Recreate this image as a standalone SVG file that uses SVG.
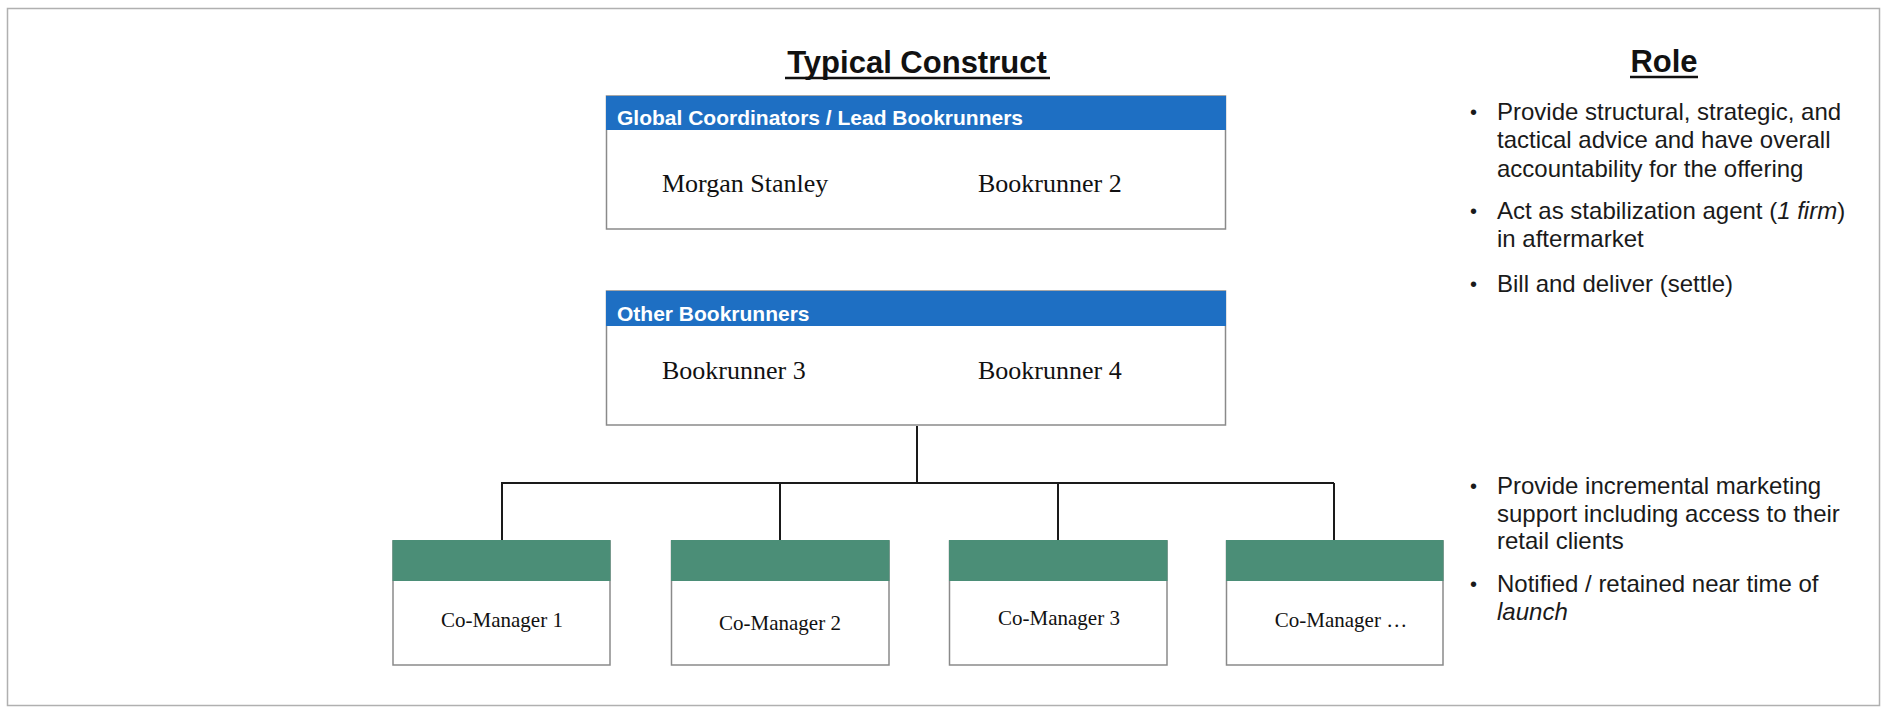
<svg xmlns="http://www.w3.org/2000/svg" width="1883" height="708" viewBox="0 0 1883 708">
<style>
.hdr{font-family:"Liberation Sans",Arial,sans-serif;font-weight:bold;font-size:31px;fill:#111}
.band-b{fill:#1e6fc3}
.band-g{fill:#4b8e77}
.box{fill:#fff;stroke:#8a8a8a;stroke-width:1.5}
.bt{font-family:"Liberation Sans",Arial,sans-serif;font-weight:bold;font-size:21px;fill:#fff}
.st{font-family:"Liberation Serif","Times New Roman",serif;font-size:26px;fill:#111}
.ct{font-family:"Liberation Serif","Times New Roman",serif;font-size:21px;fill:#111;text-anchor:middle}
.rt{font-family:"Liberation Sans",Arial,sans-serif;font-size:24px;fill:#1a1a1a}
.bul{font-family:"Liberation Sans",Arial,sans-serif;font-size:20px;fill:#1a1a1a}
.conn{stroke:#1a1a1a;stroke-width:2;fill:none}
</style>
<rect x="0" y="0" width="1883" height="708" fill="#fff"/>
<rect x="7.5" y="8.5" width="1872" height="697" fill="none" stroke="#b0b0b0" stroke-width="1.5"/>

<g id="title">
<text class="hdr" x="917" y="73" text-anchor="middle">Typical Construct</text>
<line x1="785" y1="78" x2="1050" y2="78" stroke="#111" stroke-width="2.5"/>
</g>
<g id="role-title">
<text class="hdr" x="1664" y="72" text-anchor="middle">Role</text>
<line x1="1630" y1="77" x2="1698" y2="77" stroke="#111" stroke-width="2.5"/>
</g>

<g id="connectors">
<line class="conn" x1="917" y1="426" x2="917" y2="483"/>
<line class="conn" x1="501" y1="483" x2="1334" y2="483"/>
<line class="conn" x1="502" y1="483" x2="502" y2="541"/>
<line class="conn" x1="780" y1="483" x2="780" y2="541"/>
<line class="conn" x1="1058" y1="483" x2="1058" y2="541"/>
<line class="conn" x1="1334" y1="483" x2="1334" y2="541"/>
</g>

<g id="global-coordinators">
<rect class="box" x="606.5" y="96" width="619" height="133"/>
<rect class="band-b" x="606" y="96" width="620" height="34"/>
<text class="bt" x="617" y="125">Global Coordinators / Lead Bookrunners</text>
<text class="st" x="662" y="192">Morgan Stanley</text>
<text class="st" x="978" y="192">Bookrunner 2</text>
</g>

<g id="other-bookrunners">
<rect class="box" x="606.5" y="291" width="619" height="134"/>
<rect class="band-b" x="606" y="291" width="620" height="35"/>
<text class="bt" x="617" y="321">Other Bookrunners</text>
<text class="st" x="662" y="379">Bookrunner 3</text>
<text class="st" x="978" y="379">Bookrunner 4</text>
</g>

<g id="co-manager-1">
<rect class="box" x="393" y="541" width="217" height="124"/>
<rect class="band-g" x="392.5" y="540" width="218" height="41"/>
<text class="ct" x="502" y="627">Co-Manager 1</text>
</g>
<g id="co-manager-2">
<rect class="box" x="671.5" y="541" width="217.5" height="124"/>
<rect class="band-g" x="671" y="540" width="218.5" height="41"/>
<text class="ct" x="780" y="630">Co-Manager 2</text>
</g>
<g id="co-manager-3">
<rect class="box" x="949.5" y="541" width="217.5" height="124"/>
<rect class="band-g" x="949" y="540" width="218.5" height="41"/>
<text class="ct" x="1059" y="625">Co-Manager 3</text>
</g>
<g id="co-manager-4">
<rect class="box" x="1226.5" y="541" width="216.5" height="124"/>
<rect class="band-g" x="1226" y="540" width="217.5" height="41"/>
<text class="ct" x="1341" y="627">Co-Manager …</text>
</g>

<g id="role-lead">
<text class="bul" x="1470" y="119">•</text>
<text class="rt" x="1497" y="120">Provide structural, strategic, and</text>
<text class="rt" x="1497" y="148">tactical advice and have overall</text>
<text class="rt" x="1497" y="177">accountability for the offering</text>
<text class="bul" x="1470" y="218">•</text>
<text class="rt" x="1497" y="219">Act as stabilization agent (<tspan font-style="italic">1 firm</tspan>)</text>
<text class="rt" x="1497" y="247">in aftermarket</text>
<text class="bul" x="1470" y="291">•</text>
<text class="rt" x="1497" y="292">Bill and deliver (settle)</text>
</g>

<g id="role-comanagers">
<text class="bul" x="1470" y="493">•</text>
<text class="rt" x="1497" y="494">Provide incremental marketing</text>
<text class="rt" x="1497" y="522">support including access to their</text>
<text class="rt" x="1497" y="549">retail clients</text>
<text class="bul" x="1470" y="591">•</text>
<text class="rt" x="1497" y="592">Notified / retained near time of</text>
<text class="rt" x="1497" y="620" font-style="italic">launch</text>
</g>
</svg>
